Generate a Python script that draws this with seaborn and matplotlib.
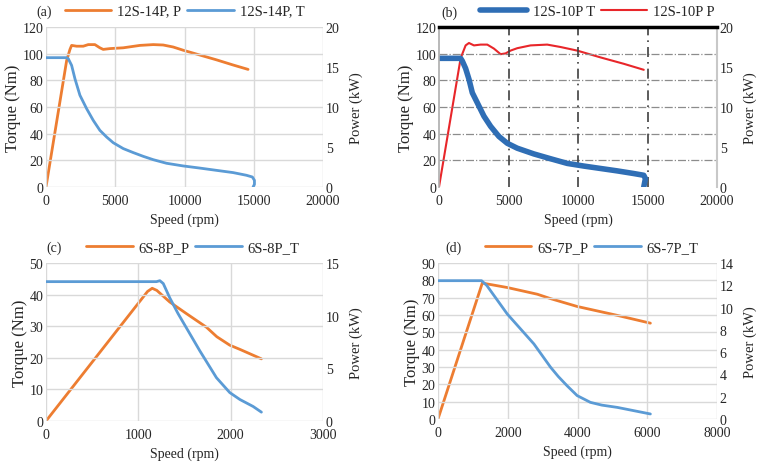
import numpy as np
import pandas as pd
import matplotlib
matplotlib.use('Agg')
import matplotlib.pyplot as plt
import seaborn as sns

sns.set_theme(style='white')
plt.rcParams['font.family'] = ['Liberation Serif', 'DejaVu Serif']
plt.rcParams['font.size'] = 10

ORANGE, BLUE = '#ED7D31', '#5B9BD5'
BLUE_B, RED_B = '#2F6EB5', '#E8262A'

# (a) 12S-14P
a_speed_t = [0, 1490, 1610, 1850, 2090, 2450, 2930, 3410, 3890, 4375, 4855, 5580, 6300, 7020,
             7740, 8700, 9900, 11100, 12300, 13510, 14470, 14900, 15050, 15050, 14950]
a_torque = [97, 97, 96.2, 91.2, 81.2, 68.8, 58.8, 50, 42.5, 37.5, 33.2, 28.8, 25.8, 23,
            20.5, 17.8, 15.8, 14.2, 12.5, 10.8, 8.8, 7.5, 5, 2, 0]
a_speed_p = [0, 1490, 1730, 1850, 2210, 2690, 3050, 3530, 3890, 4130, 4615, 5580, 6780, 7740,
             8460, 9180, 9900, 11100, 12300, 13510, 14590]
a_power = [0, 15.8, 17.2, 17.7, 17.6, 17.6, 17.8, 17.8, 17.4, 17.2, 17.3, 17.4, 17.7, 17.8,
           17.75, 17.5, 17.1, 16.5, 15.9, 15.25, 14.7]

# (b) 12S-10P
b_speed_t = [0, 1557, 1677, 1916, 2156, 2395, 2754, 3234, 3713, 4311, 4910, 5629, 6826, 8024,
             9222, 10419, 11617, 12814, 14012, 14731, 14850, 14731]
b_torque = [96.5, 96.5, 94.5, 88.9, 80.8, 70.7, 63.2, 53.1, 45.5, 37.9, 32.8, 29.1, 24.8, 21.2,
            17.7, 15.7, 13.9, 12.1, 10.1, 8.8, 6.3, 0]
b_speed_p = [0, 1557, 1916, 2156, 2515, 2994, 3473, 3952, 4431, 4790, 5150, 5629, 6587, 7784,
             8743, 9940, 11617, 13293, 14731]
b_power = [0, 16.1, 17.7, 18.0, 17.7, 17.8, 17.8, 17.3, 16.6, 16.7, 17.05, 17.35, 17.7, 17.8,
           17.5, 17.05, 16.2, 15.4, 14.65]

# (c) 6S-8P
c_speed_t = [0, 1197, 1233, 1270, 1340, 1430, 1520, 1666, 1846, 1990, 2100, 2243, 2333]
c_torque = [44.1, 44.1, 44.4, 43.5, 39, 34, 29.5, 22.2, 13.7, 9, 6.8, 4.6, 2.8]
c_speed_p = [0, 1100, 1150, 1200, 1340, 1520, 1738, 1850, 1990, 2100, 2333]
c_power = [0, 12.3, 12.6, 12.4, 11.3, 10.2, 8.9, 8.0, 7.2, 6.8, 5.9]

# (d) 6S-7P
d_speed_t = [0, 1250, 1400, 1985, 2750, 3230, 3450, 3700, 3990, 4370, 4700, 5140, 6090]
d_torque = [79.8, 79.8, 77, 60.6, 43.3, 29.8, 24.5, 19.2, 13.5, 9.6, 8.0, 6.7, 2.9]
d_speed_p = [0, 1270, 1985, 2845, 3230, 3990, 5140, 6090]
d_power = [0, 12.2, 11.8, 11.2, 10.8, 10.1, 9.3, 8.6]

fig = plt.figure(figsize=(7.68, 4.64), dpi=100)
W, H = 768, 464


def make_axes(l, t, r, b):
    return fig.add_axes([l / W, 1 - b / H, (r - l) / W, (b - t) / H])


def panel(ax, st, tq, sp, pw, xlim, xticks, ylim, yticks, plim, pticks,
          labels, colors, widths, order, letter, lx, ly, leg_x, excel=True):
    ax2 = ax.twinx()
    dft = pd.DataFrame({'speed': st, 'val': tq})
    dfp = pd.DataFrame({'speed': sp, 'val': pw})
    sns.lineplot(data=dft, x='speed', y='val', ax=ax, sort=False, estimator=None,
                 color=colors['T'], lw=widths['T'], label=labels['T'], legend=False)
    sns.lineplot(data=dfp, x='speed', y='val', ax=ax2, sort=False, estimator=None,
                 color=colors['P'], lw=widths['P'], label=labels['P'], legend=False)
    ax.set_xlim(*xlim); ax.set_xticks(xticks)
    ax.set_ylim(*ylim); ax.set_yticks(yticks)
    ax2.set_ylim(*plim); ax2.set_yticks(pticks)
    ax.set_xlabel('Speed (rpm)', fontsize=10, labelpad=4)
    ax.set_ylabel('Torque (Nm)', fontsize=12, labelpad=1)
    ax2.set_ylabel('Power (kW)', fontsize=10.5, labelpad=7)
    for a in (ax, ax2):
        a.tick_params(length=0, labelsize=10, pad=2)
        for s in a.spines.values():
            s.set_visible(False)
    ax.tick_params(axis='x', pad=5)
    ax.set_zorder(ax2.get_zorder() + 1); ax.patch.set_visible(False)
    if excel:
        ax.grid(True, color='#d9d9d9', lw=1)
    else:
        for y in yticks[1:-1]:
            ax.axhline(y, color='#8c8c8c', lw=0.9, ls='-.', zorder=0)
        for x in xticks[1:-1]:
            ax.axvline(x, color='#404040', lw=1.2, ls=(0, (6, 3, 1, 3)), zorder=0)
        ax.spines['left'].set_visible(True); ax.spines['left'].set_color('#b0b0b0')
        ax2.spines['right'].set_visible(True); ax2.spines['right'].set_color('#c8c8c8')
        ax2.spines['right'].set_linewidth(1.5)
        ax.spines['top'].set_visible(True); ax.spines['top'].set_color('black')
        ax.spines['top'].set_linewidth(2.5)
    h1, l1 = ax.get_legend_handles_labels()
    h2, l2 = ax2.get_legend_handles_labels()
    hd = dict(zip(l1 + l2, h1 + h2))
    ax.legend([hd[k] for k in order], order, loc='center', bbox_to_anchor=(leg_x, 1.1),
              ncol=2, frameon=False, fontsize=10.5, handlelength=3.2, columnspacing=0.4,
              handletextpad=0.4, borderaxespad=0)
    fig.text(lx / W, 1 - ly / H, letter, fontsize=10, ha='center', va='center')


ax_a = make_axes(46, 28, 323, 188)
panel(ax_a, a_speed_t, a_torque, a_speed_p, a_power, (0, 20000), [0, 5000, 10000, 15000, 20000],
      (0, 120), list(range(0, 121, 20)), (0, 20), [0, 5, 10, 15, 20],
      {'T': '12S-14P, T', 'P': '12S-14P, P'}, {'T': BLUE, 'P': ORANGE}, {'T': 2, 'P': 2},
      ['12S-14P, P', '12S-14P, T'], '(a)', 44, 12, 0.5)

ax_b = make_axes(439, 28, 717, 188)
panel(ax_b, b_speed_t, b_torque, b_speed_p, b_power, (0, 20000), [0, 5000, 10000, 15000, 20000],
      (0, 120), list(range(0, 121, 20)), (0, 20), [0, 5, 10, 15, 20],
      {'T': '12S-10P T', 'P': '12S-10P P'}, {'T': BLUE_B, 'P': RED_B}, {'T': 4, 'P': 1.5},
      ['12S-10P T', '12S-10P P'], '(b)', 449, 13, 0.57, excel=False)

ax_c = make_axes(46, 264, 323, 422)
panel(ax_c, c_speed_t, c_torque, c_speed_p, c_power, (0, 3000), [0, 1000, 2000, 3000],
      (0, 50), list(range(0, 51, 10)), (0, 15), [0, 5, 10, 15],
      {'T': '6S-8P_T', 'P': '6S-8P_P'}, {'T': BLUE, 'P': ORANGE}, {'T': 2, 'P': 2},
      ['6S-8P_P', '6S-8P_T'], '(c)', 54, 248, 0.53)

ax_d = make_axes(438, 264, 717, 420)
panel(ax_d, d_speed_t, d_torque, d_speed_p, d_power, (0, 8000), [0, 2000, 4000, 6000, 8000],
      (0, 90), list(range(0, 91, 10)), (0, 14), list(range(0, 15, 2)),
      {'T': '6S-7P_T', 'P': '6S-7P_P'}, {'T': BLUE, 'P': ORANGE}, {'T': 2, 'P': 2},
      ['6S-7P_P', '6S-7P_T'], '(d)', 454, 248, 0.55)

fig.savefig('out.png', dpi=100)
